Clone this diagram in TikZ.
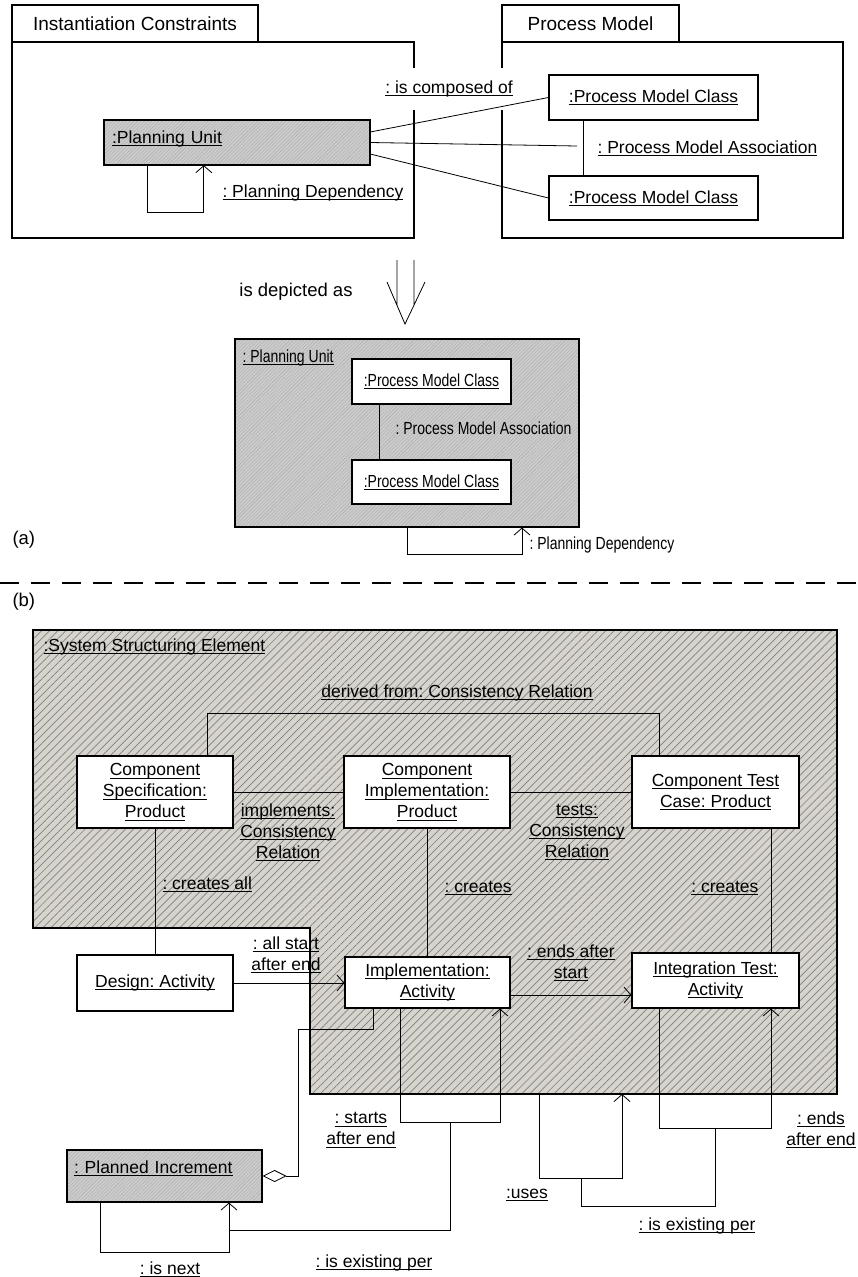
\documentclass[tikz,border=0pt]{standalone}
\usepackage{fontspec}
\setmainfont{Liberation Sans}
\usepackage{graphicx}
\usepackage{tikz}
\usetikzlibrary{positioning,arrows.meta,patterns.meta}
\definecolor{pugray}{RGB}{204,204,204}
\definecolor{puline}{RGB}{172,172,172}
\definecolor{ssegray}{RGB}{214,212,205}
\definecolor{sseline}{RGB}{128,128,128}
\frenchspacing
\newcommand{\ulabel}[1]{\setbox0=\hbox{#1}\rlap{\rule[-2.6pt]{\wd0}{0.9pt}}\box0}
\newcommand{\narrowtxt}[1]{\scalebox{0.8}[1]{#1}}

\begin{document}
\begin{tikzpicture}[x=1pt,y=-1pt,
  every node/.style={font=\fontsize{17.5}{21}\selectfont},
  mybox/.style={draw,line width=1.1pt,fill=white,inner sep=0pt,align=center},
  mytab/.style={draw,line width=1.1pt,fill=white,inner sep=0pt,font=\fontsize{19}{23}\selectfont},
  mypu/.style={draw,line width=1.1pt,preaction={fill=pugray},pattern={Lines[angle=45,distance=2.5pt,line width=0.4pt]},pattern color=puline,inner sep=0pt},
  mylink/.style={line width=0.8pt},
  mydep/.style={line width=0.8pt,-{Straight Barb[length=7pt,width=16pt]}}
]
\useasboundingbox (0,0) rectangle (857,1277);

% (a) instantiation constraints and process model
\node[mybox, minimum width=402pt, minimum height=196pt] (icbody) at (213,140) {};
\node[mytab, minimum width=246pt, minimum height=37pt] (ictab) at (135,23.5) {Instantiation Constraints};
\node[mybox, minimum width=341pt, minimum height=196pt] (pmbody) at (672.5,140) {};
\node[mytab, minimum width=177pt, minimum height=37pt] (pmtab) at (590.5,23.5) {Process Model};

\node[mypu, minimum width=266pt, minimum height=45pt, text width=250pt, align=left] (pu) at (237,142.5) {\raisebox{4pt}[\height][\depth]{\ulabel{:Planning Unit}}};
\node[mybox, minimum width=209pt, minimum height=45pt] (pmc1) at (653.5,97.5) {\ulabel{:Process Model Class}};
\node[mybox, minimum width=209pt, minimum height=44pt] (pmc2) at (653.5,198) {\ulabel{:Process Model Class}};
\draw[mylink] ([xshift=-70.5pt]pmc1.south) -- ([xshift=-70.5pt]pmc2.north);
\node[anchor=west] (pmalbl) at (594,148) {\ulabel{: Process Model Association}};
\coordinate (pma) at (577,146);
\node[fill=white, inner xsep=2pt, inner ysep=13pt] (complbl) at (449,89) {\ulabel{: is composed of}};

\draw[mylink] ([yshift=10.5pt]pu.east) -- (pmc1.west);
\draw[mylink] (pu.east) -- (pma);
\draw[mylink] ([yshift=-11.5pt]pu.east) -- (pmc2.west);

\draw[mydep] ([xshift=44pt]pu.south west) -- ++(0,47) -| ([xshift=100pt]pu.south west);
\node[anchor=west] (pdlbl) at (219,193) {\ulabel{: Planning Dependency}};

% is depicted as
\node[font=\fontsize{18.5}{22}\selectfont] (deplbl) at (296,292) {is depicted as};
\draw[line width=0.8pt] (397,260) -- (397,305) (414,260) -- (414,305)
  (387,282) -- (405,324) -- (425,282);

\node[mypu, minimum width=344pt, minimum height=188pt] (pu2) at (407,433) {};
\node[anchor=west] (pu2lbl) at (239,358) {\narrowtxt{\ulabel{: Planning Unit}}};
\node[mybox, minimum width=159pt, minimum height=45pt] (pmc3) at (431.5,381.5) {\narrowtxt{\ulabel{:Process Model Class}}};
\node[mybox, minimum width=159pt, minimum height=44pt] (pmc4) at (431.5,482) {\narrowtxt{\ulabel{:Process Model Class}}};
\draw[mylink] ([xshift=-52.5pt]pmc3.south) -- ([xshift=-52.5pt]pmc4.north);
\node[anchor=west] (pmalbl2) at (392,428) {\narrowtxt{: Process Model Association}};
\draw[mydep] (pu2.south) -- ++(0,27) -| ([xshift=115pt]pu2.south);
\node[anchor=west] (pdlbl2) at (526,545) {\narrowtxt{: Planning Dependency}};

\node[anchor=west, font=\fontsize{18.5}{22}\selectfont] (alabel) at (9,540) {(a)};
\draw[line width=2pt, dash pattern=on 19pt off 12pt] (0,583) -- (857,583);
\node[anchor=west, font=\fontsize{18.5}{22}\selectfont] (blabel) at (9,602) {(b)};

% (b) system structuring element
\draw[line width=1.1pt, preaction={fill=ssegray}, pattern={Lines[angle=45,distance=5.7pt,line width=0.7pt]}, pattern color=sseline]
  (33,630) -- (837,630) -- (837,1094) -- (310,1094) -- (310,928) -- (33,928) -- cycle;
\node[anchor=west] (sselbl) at (40,647) {\ulabel{:System Structuring Element}};
\coordinate (usesa) at (539,1094);
\coordinate (usesb) at (622,1094);

\node[mybox, minimum width=156pt, minimum height=72pt] (cs) at (155,792) {\ulabel{Component}\\\ulabel{Specification:}\\\ulabel{Product}};
\node[mybox, minimum width=166pt, minimum height=72pt] (ci) at (427,792) {\ulabel{Component}\\\ulabel{Implementation:}\\\ulabel{Product}};
\node[mybox, minimum width=167pt, minimum height=72pt] (ct) at (715.5,792) {\ulabel{Component Test}\\\ulabel{Case: Product}};

\draw[mylink] ([xshift=52pt]cs.north) -- ++(0,-42) -| ([xshift=-56.5pt]ct.north);
\node (derlbl) at (457,693) {\ulabel{derived from: Consistency Relation}};
\draw[mylink] (cs.east) -- (ci.west);
\draw[mylink] (ci.east) -- (ct.west);
\node[align=center] (impllbl) at (288,832) {\ulabel{implements:}\\\ulabel{Consistency}\\\ulabel{Relation}};
\node[align=center] (testslbl) at (577,832) {\ulabel{tests:}\\\ulabel{Consistency}\\\ulabel{Relation}};

\node[mybox, minimum width=156pt, minimum height=56pt] (da) at (155,983) {\ulabel{Design: Activity}};
\node[mybox, minimum width=165pt, minimum height=51pt] (ia) at (427.5,982.5) {\ulabel{Implementation:}\\\ulabel{Activity}};
\node[mybox, minimum width=167pt, minimum height=55pt] (ita) at (715.5,980.5) {\ulabel{Integration Test:}\\\ulabel{Activity}};

\draw[mylink] (cs.south) -- (da.north);
\draw[mylink] (ci.south) -- (ci.south |- ia.north);
\draw[mylink] ([xshift=55.5pt]ct.south) -- ([xshift=55.5pt]ita.north);
\node[anchor=west] (calbl) at (159,884) {\ulabel{: creates all}};
\node[anchor=west] (c1lbl) at (441,888) {\ulabel{: creates}};
\node[anchor=east] (c2lbl) at (762,888) {\ulabel{: creates}};

\draw[mydep] (da.east) -- (da.east -| ia.west);
\node[align=center] (aslbl) at (286,955) {\ulabel{: all start}\\\ulabel{after end}};
\draw[mydep] ([yshift=-12.5pt]ia.east) -- ([yshift=-12.5pt]ia.east -| ita.west);
\node[align=center] (eslbl) at (571,963) {\ulabel{: ends after}\\\ulabel{start}};

\draw[mydep] ([xshift=-27.5pt]ia.south) -- ++(0,114) -| ([xshift=72.5pt]ia.south);
\node[align=center] (salbl) at (361,1130) {\ulabel{: starts}\\\ulabel{after end}};

\node[mypu, minimum width=195pt, minimum height=52pt, text width=181pt, align=left] (pi) at (164.5,1176) {\raisebox{8pt}[\height][\depth]{\ulabel{: Planned Increment}}};
\draw[line width=0.8pt, {Diamond[fill=white,length=24pt,width=12pt]}-] (pi.east) -- ++(36,0) -- ++(0,-147) -| ([xshift=-54.5pt]ia.south);
\draw[mydep] ([xshift=-64.5pt]pi.south) -- ++(0,50) -| ([xshift=64.5pt]pi.south);
\node (nextlbl) at (170,1269) {\ulabel{: is next}};

\coordinate (nextmid) at ([xshift=64.5pt,yshift=-28pt]pi.south);
\coordinate (startmid) at ([xshift=22.5pt,yshift=-114pt]ia.south);
\draw[mylink] (nextmid) -| (startmid);
\node (ex1lbl) at (374,1263) {\ulabel{: is existing per}};

\draw[mydep] (usesa) -- ++(0,84) -| (usesb);
\node (useslbl) at (527,1195) {\ulabel{:uses}};

\draw[mydep] ([xshift=-56.5pt]ita.south) -- ++(0,120) -| ([xshift=55.5pt]ita.south);
\node[align=center] (eelbl) at (821,1130) {\ulabel{: ends}\\\ulabel{after end}};

\coordinate (usesmid) at ([xshift=42pt,yshift=-84pt]usesa);
\coordinate (endsmid) at ([yshift=-120pt]ita.south);
\draw[mylink] (usesmid) -- ++(0,28) -| (endsmid);
\node (ex2lbl) at (697,1226) {\ulabel{: is existing per}};

\end{tikzpicture}
\end{document}
